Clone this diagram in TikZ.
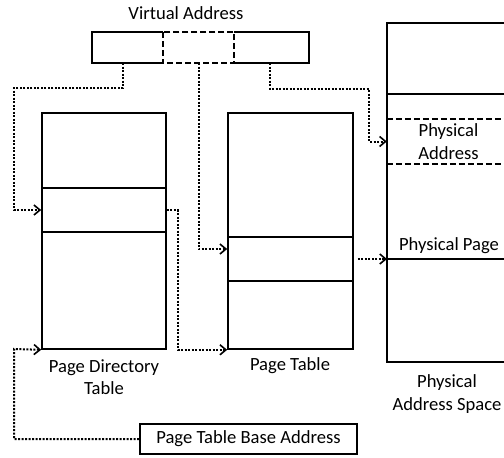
\documentclass[tikz,border=0pt]{standalone}
\usepackage{fontspec}
\setmainfont{Carlito}
\usetikzlibrary{arrows.meta,positioning}

\begin{document}
\begin{tikzpicture}[x=1pt,y=-1pt,
    box/.style={draw,line width=1.6pt,inner sep=0pt},
    edge/.style={line width=1.6pt},
    cut/.style={line width=1.6pt,dash pattern=on 6pt off 3pt},
    link/.style={line width=2pt,dash pattern=on 2pt off 1.5pt,
      -{Straight Barb[length=6pt,width=10pt,line width=1.6pt]}},
    lbl/.style={font=\fontsize{18.6}{22.5}\selectfont,align=center}]
  \useasboundingbox (0,0) rectangle (504,458);
  \clip (0,0) rectangle (504,458);

  % virtual address
  \node[lbl] (valbl) at (186,13) {Virtual Address};
  \node[inner sep=0pt,minimum width=217,minimum height=31] (va) at (200.5,47.5) {};
  \node[inner sep=0pt,minimum width=71,minimum height=31] (vatab) at (198.5,47.5) {};
  \coordinate (vadir) at ([xshift=-77.5pt]va.south);
  \coordinate (vaoff) at ([xshift=69.5pt]va.south);
  \draw[edge] (vatab.north west) -| (va.south west) -- (vatab.south west);
  \draw[edge] (vatab.north east) -| (va.south east) -- (vatab.south east);
  \draw[cut] (vatab.north west) rectangle (vatab.south east);

  % page directory table
  \node[box,minimum width=124,minimum height=236] (pdt) at (104,231) {};
  \node[box,minimum width=124,minimum height=44] (pde) at (104,210) {};
  \node[lbl] (pdtlbl) at (104,377) {Page Directory\\Table};

  % page table
  \node[box,minimum width=125,minimum height=236] (pt) at (290.5,231) {};
  \node[box,minimum width=125,minimum height=44] (pte) at (290.5,259) {};
  \node[lbl] (ptlbl) at (290,366) {Page Table};

  % physical address space
  \node[box,minimum width=123,minimum height=339] (pas) at (448.5,192.5) {};
  \draw[edge] ([yshift=-72pt]pas.north west) -- ([yshift=-72pt]pas.north east);
  \node[lbl,inner sep=0pt,minimum width=123,minimum height=45] (pa) at (448.5,141.5) {Physical\\Address};
  \draw[cut] (pa.north west) -- (pa.north east) (pa.south west) -- (pa.south east);
  \coordinate (ppw) at (387,259);
  \coordinate (ppe) at (510,259);
  \draw[edge] (ppw) -- (ppe);
  \node[lbl] (pplbl) at (449,246) {Physical Page};
  \node[lbl] (paslbl) at (447,394) {Physical\\Address Space};

  % base register
  \node[box,lbl,minimum width=217,minimum height=30] (ptba) at (248.5,439) {Page Table Base Address};

  % links
  \draw[link] (vadir) |- (14,88) |- (pde.west);
  \draw[link] (vatab.south) |- ([yshift=10pt]pte.west);
  \draw[link] (vaoff) |- (369,89) |- (pa.west);
  \draw[link] (pde.east) -- ++(11,0) |- (pt.south west);
  \draw[link] ([xshift=4pt]pte.east) -- (ppw);
  \draw[link] (ptba.west) -| (14,349) -- (pdt.south west);
\end{tikzpicture}
\end{document}
